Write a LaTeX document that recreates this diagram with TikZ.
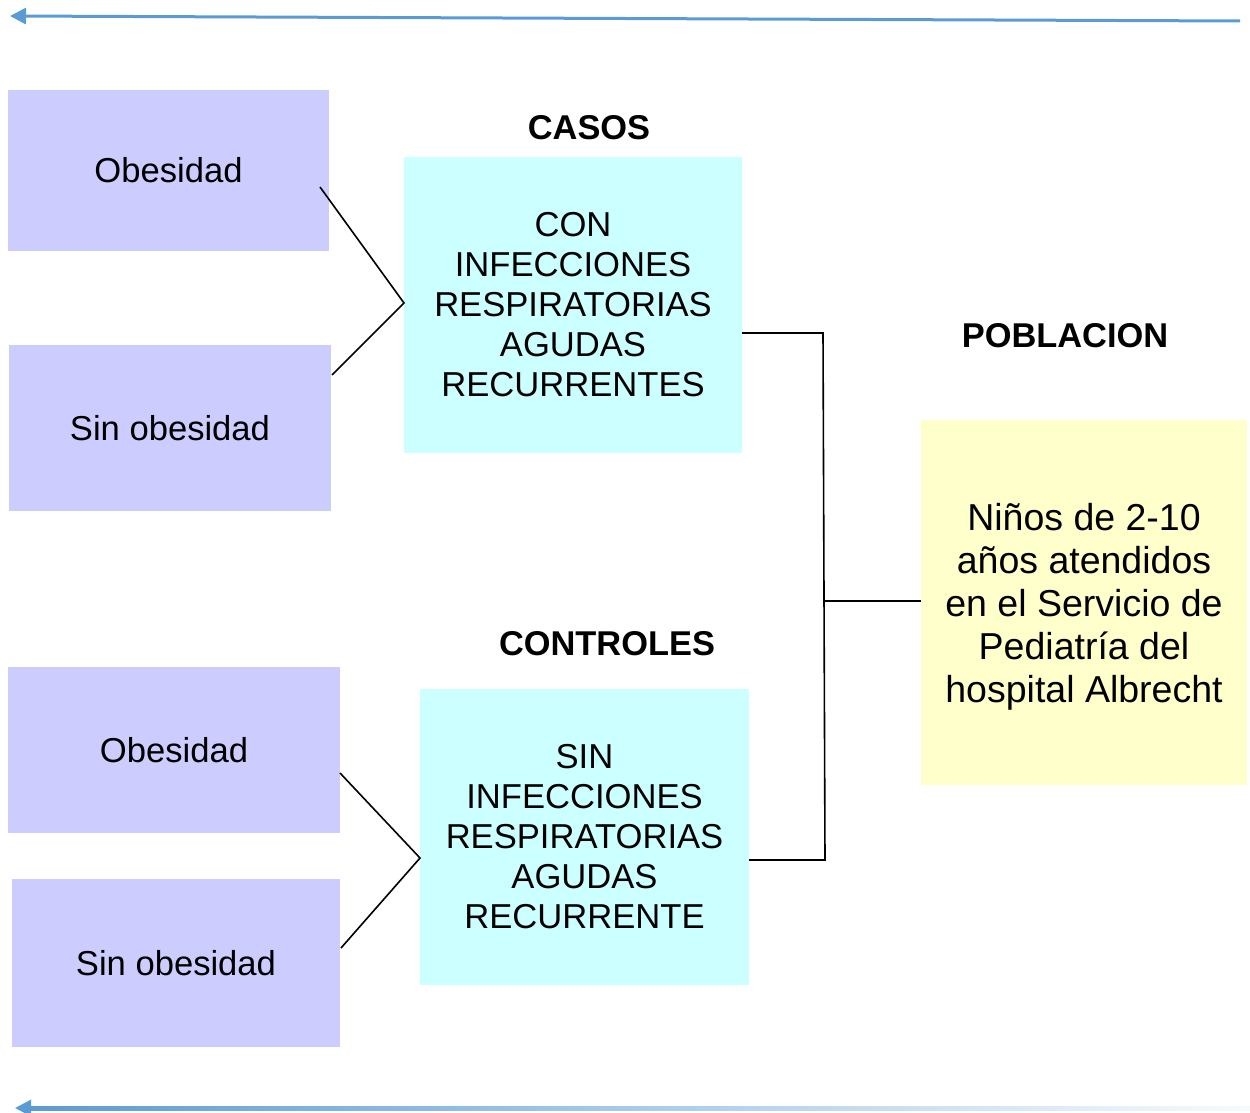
\documentclass[tikz,border=0pt]{standalone}
\usepackage{fontspec}
\setmainfont{Liberation Sans}
\usetikzlibrary{arrows.meta}
\definecolor{lila}{RGB}{204,204,255}
\definecolor{celeste}{RGB}{204,255,255}
\definecolor{crema}{RGB}{255,255,204}
\definecolor{azulflecha}{RGB}{91,155,213}
\tikzset{
  grupo/.style={fill=lila, inner sep=0pt, font=\fontsize{34.6}{40}\selectfont},
  estudio/.style={fill=celeste, inner sep=0pt, align=center, font=\fontsize{34.6}{40}\selectfont},
  titulo/.style={font=\fontsize{34.4}{40}\selectfont\bfseries},
  linea/.style={draw=black, line width=1.6pt},
  flecha/.style={azulflecha, line width=3pt, -{Triangle[length=16pt,width=16pt]}}
}
\begin{document}
\begin{tikzpicture}[x=1pt,y=-1pt]
\useasboundingbox (0,0) rectangle (1250,1113);

% flechas
\coordinate (a1) at (1240,21);
\coordinate (a2) at (10,16);
\draw[flecha] (a1) -- (a2);
\shade[left color=azulflecha, right color=azulflecha!5] (30,1106.5) rectangle (1250,1110);
\coordinate (b2) at (15,1108);
\coordinate (b1) at (40,1108);
\draw[flecha] (b1) -- (b2);

% grupos
\node[grupo, minimum width=321pt, minimum height=161pt] (ob1) at (168.5,170.5) {Obesidad};
\node[grupo, minimum width=322pt, minimum height=166pt] (sin1) at (170,428) {Sin obesidad};
\node[grupo, minimum width=332pt, minimum height=166pt] (ob2) at (174,750) {Obesidad};
\node[grupo, minimum width=328pt, minimum height=168pt] (sin2) at (176,963) {Sin obesidad};

% casos y controles
\node[estudio, minimum width=338pt, minimum height=296pt] (casos) at (573,305)
  {CON\\INFECCIONES\\RESPIRATORIAS\\AGUDAS\\RECURRENTES};
\node[estudio, minimum width=329pt, minimum height=296pt] (controles) at (584.5,837)
  {SIN\\INFECCIONES\\RESPIRATORIAS\\AGUDAS\\RECURRENTE};
\node[titulo] (tcasos) at (589,128) {CASOS};
\node[titulo] (tcontroles) at (607,644) {CONTROLES};

% poblacion
\node[titulo] (tpob) at (1065,336) {POBLACION};
\node[fill=crema, inner sep=0pt, minimum width=326pt, minimum height=365pt] (pob) at (1084,602.5) {};
\node[align=center, font=\fontsize{37.5}{43}\selectfont] (tpob2) at ([yshift=-4pt]pob.center)
  {Niños de 2-10\\años atendidos\\en el Servicio de\\Pediatría del\\hospital Albrecht};

% uniones
\coordinate (o1) at (320,187);
\coordinate (s1) at (332,375);
\coordinate (c1) at (404,303);
\draw[linea] (o1) -- (c1) -- (s1);
\coordinate (o2) at (340,773);
\coordinate (s2) at (341,948);
\coordinate (c2) at (420,858);
\draw[linea] (o2) -- (c2) -- (s2);

\coordinate (k1) at (823,333);
\coordinate (k2) at (825,860);
\coordinate (k3) at (823,601);
\draw[linea] (casos.east |- k1) -- (k1) -- (k2) -- (controles.east |- k2);
\draw[linea] (k3) -- (pob.west |- k3);
\end{tikzpicture}
\end{document}
